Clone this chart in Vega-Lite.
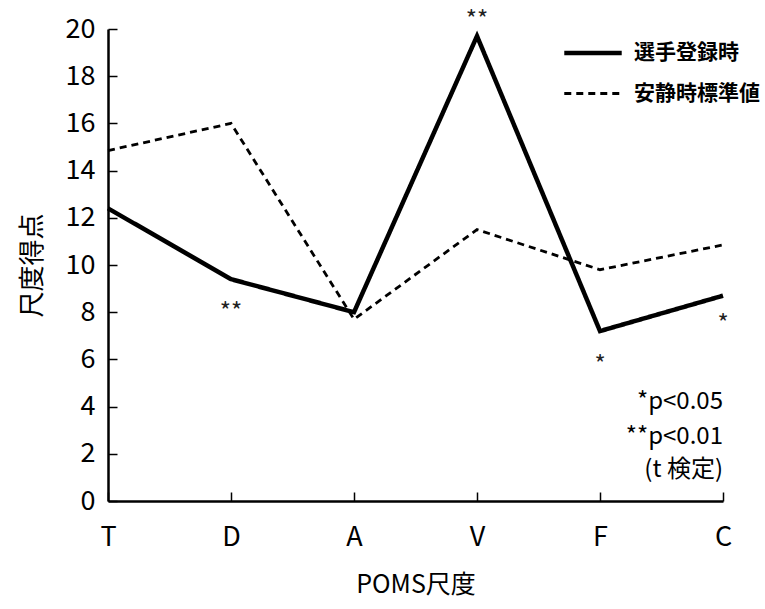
{
  "$schema": "https://vega.github.io/schema/vega-lite/v6.json",
  "width": 615,
  "height": 472,
  "autosize": "none",
  "padding": {"left": 108, "top": 29, "right": 42, "bottom": 108},
  "background": "white",
  "config": {
    "font": "Noto Sans CJK JP",
    "view": {"stroke": null},
    "axis": {"grid": false, "domainColor": "black", "domainWidth": 2.5, "tickColor": "black", "labelColor": "black", "titleColor": "black", "labelFont": "Noto Sans CJK JP", "titleFont": "Noto Sans CJK JP", "titleFontWeight": "normal"}
  },
  "datasets": {
    "main": [
      {"scale": "T", "series": "選手登録時", "value": 12.4},
      {"scale": "D", "series": "選手登録時", "value": 9.4},
      {"scale": "A", "series": "選手登録時", "value": 8.0},
      {"scale": "V", "series": "選手登録時", "value": 19.7},
      {"scale": "F", "series": "選手登録時", "value": 7.2},
      {"scale": "C", "series": "選手登録時", "value": 8.7},
      {"scale": "T", "series": "安静時標準値", "value": 14.85},
      {"scale": "D", "series": "安静時標準値", "value": 16.0},
      {"scale": "A", "series": "安静時標準値", "value": 7.7},
      {"scale": "V", "series": "安静時標準値", "value": 11.5},
      {"scale": "F", "series": "安静時標準値", "value": 9.8},
      {"scale": "C", "series": "安静時標準値", "value": 10.85}
    ],
    "stars": [
      {"scale": "D", "value": 7.95, "label": "**"},
      {"scale": "V", "value": 20.35, "label": "**"},
      {"scale": "F", "value": 5.7, "label": "*"},
      {"scale": "C", "value": 7.45, "label": "*"}
    ],
    "notes": [
      {"scale": "C", "value": 4.2, "label": "*p<0.05"},
      {"scale": "C", "value": 2.7, "label": "**p<0.01"},
      {"scale": "C", "value": 1.3, "label": "(t 検定)"}
    ]
  },
  "layer": [
    {
      "data": {"name": "main"},
      "mark": {"type": "line", "color": "black"},
      "encoding": {
        "x": {"field": "scale", "type": "ordinal", "sort": ["T", "D", "A", "V", "F", "C"],
              "scale": {"type": "point", "padding": 0},
              "axis": {"title": "POMS尺度", "labelAngle": 0, "labelFontSize": 27, "labelPadding": 32, "titleFontSize": 25, "titlePadding": 22, "tickSize": {"expr": "-9"}, "tickWidth": 1.5}},
        "y": {"field": "value", "type": "quantitative",
              "scale": {"domain": [0, 20], "nice": false},
              "axis": {"title": "尺度得点", "values": [0,2,4,6,8,10,12,14,16,18,20], "labelFontSize": 27, "labelPadding": 22, "titleFontSize": 26, "titlePadding": 20, "tickSize": {"expr": "-9"}, "tickWidth": 1.5}},
        "strokeDash": {"field": "series", "type": "nominal",
              "scale": {"domain": ["選手登録時", "安静時標準値"], "range": [[1, 0], [7, 5]]},
              "legend": {"title": null, "orient": "none", "legendX": 454, "legendY": -7, "symbolType": "stroke", "symbolSize": 3300, "symbolStrokeColor": "black", "labelFontSize": 21, "labelFontWeight": "bold", "labelColor": "black", "labelOffset": 10, "rowPadding": -23}},
        "strokeWidth": {"field": "series", "type": "nominal",
              "scale": {"domain": ["選手登録時", "安静時標準値"], "range": [4.5, 2.8]},
              "legend": {"title": null, "orient": "none", "legendX": 454, "legendY": -7, "symbolType": "stroke", "symbolSize": 3300, "symbolStrokeColor": "black", "labelFontSize": 21, "labelFontWeight": "bold", "labelColor": "black", "labelOffset": 10, "rowPadding": -23}}
      }
    },
    {
      "data": {"name": "stars"},
      "mark": {"type": "text", "fontSize": 24, "baseline": "middle", "align": "center", "color": "#222"},
      "encoding": {
        "x": {"field": "scale", "type": "ordinal", "sort": ["T", "D", "A", "V", "F", "C"]},
        "y": {"field": "value", "type": "quantitative"},
        "text": {"field": "label"}
      }
    },
    {
      "data": {"name": "notes"},
      "mark": {"type": "text", "fontSize": 24, "baseline": "middle", "align": "right", "color": "black"},
      "encoding": {
        "x": {"field": "scale", "type": "ordinal", "sort": ["T", "D", "A", "V", "F", "C"]},
        "y": {"field": "value", "type": "quantitative"},
        "text": {"field": "label"}
      }
    }
  ]
}
